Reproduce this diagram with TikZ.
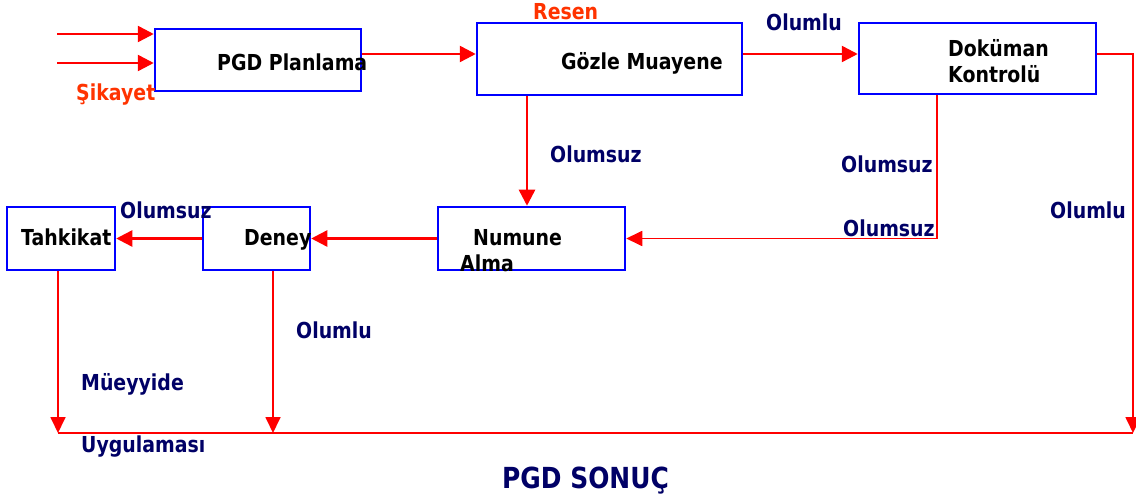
\documentclass[tikz,border=0pt]{standalone}
\usepackage{fontspec}
\setmainfont{DejaVu Sans}[FakeStretch=0.86]
\usetikzlibrary{arrows.meta}
\definecolor{navy}{RGB}{0,0,102}
\definecolor{orng}{RGB}{255,51,0}
\tikzset{
  box/.style={draw=blue, line width=2.5pt, inner sep=0pt},
  txt/.style={anchor=base west, inner sep=0pt, font=\fontsize{22}{26}\selectfont\bfseries},
  lbl/.style={txt, text=navy},
  olbl/.style={txt, text=orng},
  arr/.style={draw=red, line width=2.5pt, -{Triangle[length=16pt,width=16pt]}},
  tarr/.style={draw=red, line width=1.8pt, -{Triangle[length=16pt,width=15pt]}},
  tline/.style={draw=red, line width=1.8pt}
}
\begin{document}
\begin{tikzpicture}[x=1pt,y=-1pt]
\useasboundingbox (0,0) rectangle (1136,497);
% boxes
\node[box, minimum width=206pt, minimum height=62pt] (pl) at (258,60) {};
\node[box, minimum width=265pt, minimum height=72pt] (gm) at (609.5,59) {};
\node[box, minimum width=237pt, minimum height=71pt] (dk) at (977.5,58.5) {};
\node[box, minimum width=108pt, minimum height=63pt] (tk) at (61,238.5) {};
\node[box, minimum width=107pt, minimum height=63pt] (dn) at (256.5,238.5) {};
\node[box, minimum width=187pt, minimum height=63pt] (nm) at (531.5,238.5) {};
% box texts
\node[txt] (tpl) at (217,71) {PGD Planlama};
\node[txt] (tgm) at (561,70) {Gözle Muayene};
\node[txt] (tdk1) at (948,57) {Doküman};
\node[txt] (tdk2) at (948,83) {Kontrolü};
\node[txt] (ttk) at (21,246) {Tahkikat};
\node[txt] (tdn) at (244,246) {Deney};
\node[txt] (tnm1) at (473,246) {Numune};
\node[txt] (tnm2) at (460,272) {Alma};
% coordinates
\coordinate (i1) at (57,34);
\coordinate (i2) at (57,63);
\coordinate (a1) at (0,54);
\coordinate (gx) at (527,0);
\coordinate (dx) at (937,0);
\coordinate (r1) at (1133,433);
\coordinate (b0) at (58,433);
\coordinate (b1) at (273,433);
% connectors
\draw[arr] (i1) -- (i1 -| pl.west);
\draw[arr] (i2) -- (i2 -| pl.west);
\draw[arr] (pl.east |- a1) -- (gm.west |- a1);
\draw[arr] (gm.east |- a1) -- (dk.west |- a1);
\draw[arr] (gm.south -| gx) -- (nm.north -| gx);
\draw[tarr] (dk.south -| dx) |- (nm.east);
\draw[tarr] (dk.east |- a1) -| (r1);
\draw[tline] (b0) -- (r1);
\draw[arr] (nm.west) -- (dn.east);
\draw[arr] (dn.west) -- (tk.east);
\draw[tarr] (tk.south -| b0) -- (b0);
\draw[tarr] (dn.south -| b1) -- (b1);
% labels
\node[olbl] (sik) at (76,101) {Şikayet};
\node[olbl] (res) at (533,20) {Resen};
\node[lbl] (o1) at (766,31) {Olumlu};
\node[lbl] (o2) at (550,163) {Olumsuz};
\node[lbl] (o3) at (841,173) {Olumsuz};
\node[lbl] (o4) at (843,237) {Olumsuz};
\node[lbl] (o5) at (1050,219) {Olumlu};
\node[lbl] (o6) at (120,219) {Olumsuz};
\node[lbl] (o7) at (296,338) {Olumlu};
\node[lbl] (mu) at (81,390) {Müeyyide};
\node[lbl] (uy) at (81,452) {Uygulaması};
\node[txt, text=navy, font=\fontsize{29}{34}\selectfont\bfseries] (son) at (502,488) {PGD SONUÇ};
\end{tikzpicture}
\end{document}
